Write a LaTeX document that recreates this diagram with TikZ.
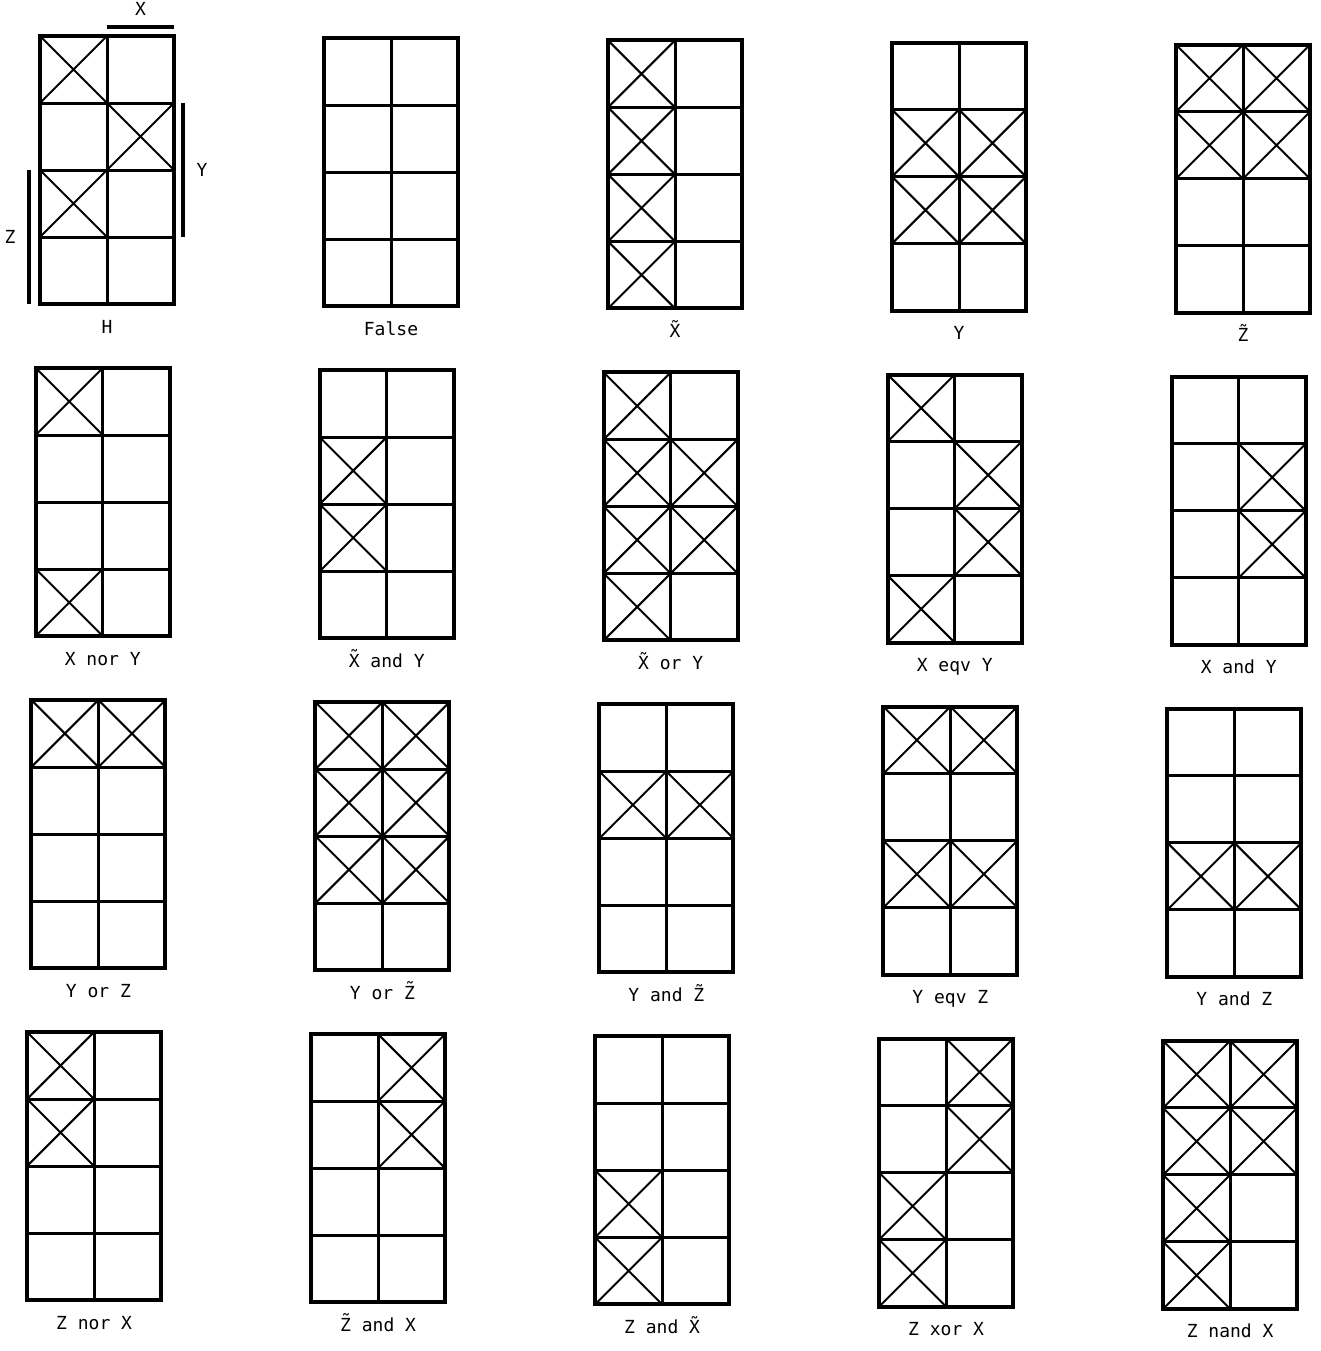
\documentclass[tikz,border=0pt]{standalone}
\usepackage{fontspec}
\newfontfamily\labfont{DejaVu Sans Mono}
\usetikzlibrary{positioning}

\begin{document}
\begin{tikzpicture}[
  x=0.5pt, y=-0.5pt,
  frame/.style={draw, line width=2pt, minimum width=67pt, minimum height=134pt, inner sep=0pt, outer sep=0pt},
  cellline/.style={line width=1.5pt},
  crossline/.style={line width=1pt},
  bar/.style={line width=1.6pt},
  lab/.style={font=\labfont\fontsize{9}{11}\selectfont, inner sep=0pt}
]
  \useasboundingbox (0,0) rectangle (1321,1351);

  % the twenty maps: column/row/name/crossed cells/caption
  \foreach \c/\r/\name/\marks/\txt in {
    0/0/h/{1/1,2/2,1/3}/H,
    1/0/false/{0/0}/False,
    2/0/notx/{1/1,1/2,1/3,1/4}/\~{X},
    3/0/y/{1/2,2/2,1/3,2/3}/Y,
    4/0/notz/{1/1,2/1,1/2,2/2}/\~{Z},
    0/1/xnory/{1/1,1/4}/X nor Y,
    1/1/notxandy/{1/2,1/3}/\~{X} and Y,
    2/1/notxory/{1/1,1/2,2/2,1/3,2/3,1/4}/\~{X} or Y,
    3/1/xeqvy/{1/1,2/2,2/3,1/4}/X eqv Y,
    4/1/xandy/{2/2,2/3}/X and Y,
    0/2/yorz/{1/1,2/1}/Y or Z,
    1/2/yornotz/{1/1,2/1,1/2,2/2,1/3,2/3}/Y or \~{Z},
    2/2/yandnotz/{1/2,2/2}/Y and \~{Z},
    3/2/yeqvz/{1/1,2/1,1/3,2/3}/Y eqv Z,
    4/2/yandz/{1/3,2/3}/Y and Z,
    0/3/znorx/{1/1,1/2}/Z nor X,
    1/3/notzandx/{2/1,2/2}/\~{Z} and X,
    2/3/zandnotx/{1/3,1/4}/Z and \~{X},
    3/3/zxorx/{2/1,2/2,1/3,1/4}/Z xor X,
    4/3/znandx/{1/1,2/1,1/2,2/2,1/3,1/4}/Z nand X%
  }{
    \pgfmathsetmacro{\xo}{40+284*\c-4.3*\r}
    \pgfmathsetmacro{\yo}{36+2.2*\c+332*\r}
    \begin{scope}[shift={(\xo,\yo)}]
      \node[frame] (map-\name) at (67,134) {};
      \draw[cellline] (67,0) -- (67,268) (0,67) -- (134,67) (0,134) -- (134,134) (0,201) -- (134,201);
      \foreach \i/\j in \marks {
        \ifnum\i>0
          \draw[crossline] ({67*(\i-1)},{67*(\j-1)}) -- ++(67,67) ({67*\i},{67*(\j-1)}) -- ++(-67,67);
        \fi
      }
      \node[lab, below=14.5pt of map-\name, anchor=base] (lab-\name) {\txt};
    \end{scope}
  }

  % variable bars on the first map
  \begin{scope}[shift={(40,36)}]
    \coordinate (xbar-a) at (67,-9);
    \coordinate (xbar-b) at (134,-9);
    \coordinate (ybar-a) at (143,67);
    \coordinate (ybar-b) at (143,201);
    \coordinate (zbar-a) at (-11,134);
    \coordinate (zbar-b) at (-11,268);
  \end{scope}
  \draw[bar] (xbar-a) -- (xbar-b) node[midway, lab, above=5pt] (xname) {X};
  \draw[bar] (ybar-a) -- (ybar-b) node[midway, lab, right=6pt] (yname) {Y};
  \draw[bar] (zbar-a) -- (zbar-b) node[midway, lab, left=6pt] (zname) {Z};
\end{tikzpicture}
\end{document}
